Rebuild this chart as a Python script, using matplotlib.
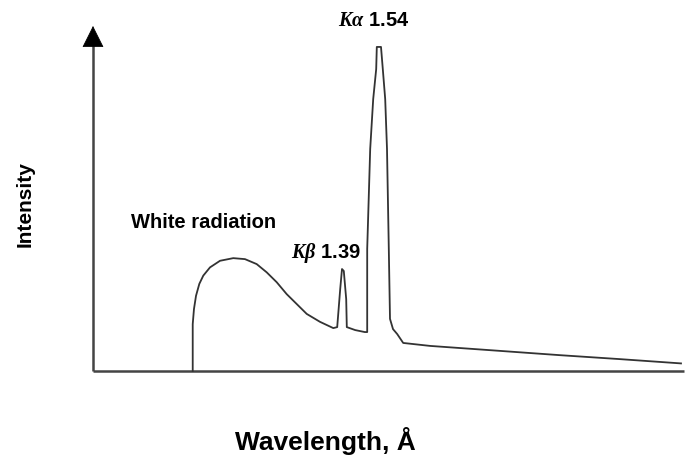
import matplotlib
matplotlib.use("Agg")
import matplotlib.pyplot as plt

plt.rcParams['mathtext.fontset'] = 'custom'
plt.rcParams['mathtext.it'] = 'Liberation Serif:italic:bold'
plt.rcParams['mathtext.rm'] = 'Liberation Serif:bold'

# Spectrum curve (arbitrary units): wavelength position, intensity
wavelength = [16.62, 16.62, 16.83, 17.17, 17.72, 18.38, 19.5, 21.17, 23.38, 25.33,
              27.28, 28.95, 30.62, 32.28, 33.95, 35.62, 37.83, 40.05,
              40.7, 41.2, 41.5, 41.8, 42.2, 42.3, 43.7, 45.3,
              45.7, 45.7, 46.2, 46.7, 47.2, 47.3, 48.0, 48.3, 48.7, 49.0, 49.3, 49.5,
              50.0, 50.7, 51.7, 56.2, 67.8, 77.8, 87.8, 98.0]
intensity = [0.0, 14.2, 18.8, 22.8, 26.4, 28.9, 31.4, 33.4, 34.2, 33.9,
             32.4, 29.9, 26.9, 23.3, 20.3, 17.3, 14.9, 13.0,
             13.3, 24.8, 30.9, 30.3, 21.8, 13.3, 12.4, 11.8,
             11.8, 37.0, 67.3, 82.4, 91.5, 98.2, 98.2, 91.5, 82.4, 67.3, 37.0, 15.8,
             12.7, 11.2, 8.5, 7.6, 6.1, 4.8, 3.6, 2.3]

labels = {
    'ka': (r"$K\alpha$ 1.54", 374, 26),
    'kb': (r"$K\beta$ 1.39", 326, 258),
    'white': ("White radiation", 204, 228),
}

W, H = 696, 456
fig = plt.figure(figsize=(W / 100, H / 100), dpi=100)
ax = fig.add_axes([0, 0, 1, 1])
ox, oy = 93, 372
sx, sy = 6.0, 3.3
ax.set_xlim((0 - ox) / sx, (W - ox) / sx)
ax.set_ylim((oy - H) / sy, oy / sy)
ax.axis('off')

# axes with arrows
ytop = (oy - 44) / sy
xend = (684 - ox) / sx
ax.plot([0, 0], [0, ytop], color='#444444', lw=1.8, solid_capstyle='butt', zorder=2)
ax.plot([0, xend], [0, 0], color='#444444', lw=1.8, solid_capstyle='butt', zorder=2)
ax.annotate('', xy=(0, (oy - 27) / sy), xytext=(0, (oy - 46) / sy),
            arrowprops=dict(arrowstyle='-|>,head_length=1.1,head_width=0.55',
                            mutation_scale=13, color='black', lw=0.5,
                            shrinkA=0, shrinkB=0))
ax.annotate('', xy=((697 - ox) / sx, 0), xytext=((682 - ox) / sx, 0),
            arrowprops=dict(arrowstyle='-|>,head_length=1.0,head_width=0.55',
                            mutation_scale=13, color='black', lw=0.5,
                            shrinkA=0, shrinkB=0))

ax.plot(wavelength, intensity, color='#333333', lw=1.3, zorder=3,
        solid_joinstyle='round')

for key, (txt, px, py) in labels.items():
    fig.text(px / W, 1 - py / H, txt, ha='center', va='baseline',
             fontsize=14.5, fontweight='bold', family='Liberation Sans')

fig.text(25 / W, 1 - 204 / H, "Intensity", rotation=90, ha='center', va='center',
         fontsize=15, fontweight='bold', family='Liberation Sans')
fig.text(325 / W, 1 - 450 / H, "Wavelength, Å", ha='center', va='baseline',
         fontsize=19, fontweight='bold', family='Liberation Sans')

fig.savefig('out.png', dpi=100, facecolor='white')
